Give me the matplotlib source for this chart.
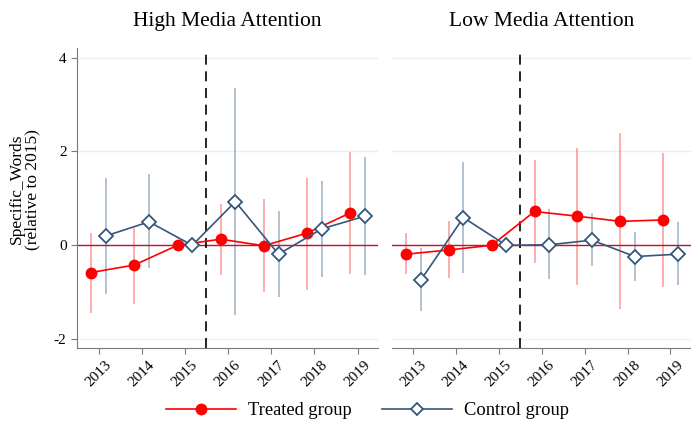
import matplotlib.pyplot as plt
import numpy as np
from matplotlib.lines import Line2D

plt.rcParams['font.family'] = ['Liberation Serif', 'DejaVu Serif']
plt.rcParams['axes.unicode_minus'] = False

years = [2013, 2014, 2015, 2016, 2017, 2018, 2019]

## High Media Attention
high_treat = [-0.58, -0.42, 0.0, 0.13, -0.01, 0.26, 0.69]
high_treat_lo = [-1.45, -1.26, np.nan, -0.63, -1.00, -0.95, -0.61]
high_treat_hi = [0.27, 0.37, np.nan, 0.89, 0.99, 1.43, 1.98]
high_ctrl = [0.20, 0.50, 0.0, 0.93, -0.19, 0.35, 0.62]
high_ctrl_lo = [-1.04, -0.49, np.nan, -1.49, -1.11, -0.68, -0.63]
high_ctrl_hi = [1.43, 1.51, np.nan, 3.36, 0.74, 1.37, 1.89]

## Low Media Attention
low_treat = [-0.19, -0.10, 0.0, 0.72, 0.62, 0.51, 0.54]
low_treat_lo = [-0.62, -0.70, np.nan, -0.38, -0.84, -1.36, -0.89]
low_treat_hi = [0.26, 0.52, np.nan, 1.81, 2.08, 2.40, 1.97]
low_ctrl = [-0.75, 0.59, 0.0, 0.01, 0.11, -0.24, -0.19]
low_ctrl_lo = [-1.41, -0.60, np.nan, -0.71, -0.45, -0.76, -0.84]
low_ctrl_hi = [-0.06, 1.78, np.nan, 0.77, 0.68, 0.28, 0.50]

titles = ["High Media Attention", "Low Media Attention"]

red = '#ff0000'
navy = '#34587c'
axis_gray = '#7a7a7a'


def panel(ax, treat, t_lo, t_hi, ctrl, c_lo, c_hi, title, show_y):
    x = np.array(years, dtype=float)
    xt = x - 0.17
    xc = x + 0.17
    ## 置信区间
    ax.vlines(xt, t_lo, t_hi, color=red, alpha=0.35, lw=1.3, zorder=2)
    ax.vlines(xc, c_lo, c_hi, color=navy, alpha=0.4, lw=1.3, zorder=2)
    ax.axhline(0, color='#c8102e', lw=1.0, zorder=2.2)
    ax.axvline(2015.5, color='black', lw=1.2, ls=(0, (6, 4)), zorder=3)
    ax.plot(xt, treat, color=red, lw=1.2, marker='o', ms=7.5, zorder=4)
    ax.plot(xc, ctrl, color=navy, lw=1.2, marker='D', ms=7, mfc='white',
            mec=navy, mew=1.3, zorder=5)

    ax.set_xlim(2012.5, 2019.48)
    ax.set_ylim(-2.19, 4.2)
    ax.set_yticks([-2, 0, 2, 4])
    ax.set_xticks(years)
    ax.set_xticklabels([str(y) for y in years], rotation=45, fontsize=11)
    ax.grid(axis='y', color='#eeeeee', lw=1.0, zorder=0)
    ax.set_axisbelow(True)
    ax.set_title(title, fontsize=15.5, pad=16)
    for s in ['top', 'right']:
        ax.spines[s].set_visible(False)
    ax.spines['bottom'].set_color(axis_gray)
    ax.spines['left'].set_color(axis_gray)
    ax.tick_params(colors=axis_gray, labelcolor='black', length=4)
    if show_y:
        ax.tick_params(axis='y', labelsize=11)
        ax.set_ylabel("Specific_Words\n(relative to 2015)", fontsize=12.5,
                      linespacing=1.0)
        ax.yaxis.set_label_coords(-0.12, 0.53)
    else:
        ax.spines['left'].set_visible(False)
        ax.tick_params(axis='y', left=False, labelleft=False)


fig = plt.figure(figsize=(6.91, 4.34), dpi=100)
ax1 = fig.add_axes([0.1114, 0.198, 0.436, 0.691])
ax2 = fig.add_axes([0.567, 0.198, 0.433, 0.691])

panel(ax1, high_treat, high_treat_lo, high_treat_hi,
      high_ctrl, high_ctrl_lo, high_ctrl_hi, titles[0], True)
panel(ax2, low_treat, low_treat_lo, low_treat_hi,
      low_ctrl, low_ctrl_lo, low_ctrl_hi, titles[1], False)

## 图例
handles = [
    Line2D([], [], color=red, lw=1.2, marker='o', ms=7.5),
    Line2D([], [], color=navy, lw=1.2, marker='D', ms=6, mfc='white', mec=navy, mew=1.3),
]
fig.legend(handles, ["Treated group", "Control group"], loc='center',
           bbox_to_anchor=(0.532, 0.053), ncol=2, frameon=False, fontsize=13.3,
           handlelength=3.8, columnspacing=1.6, handletextpad=0.65)

fig.savefig('out.png', dpi=100)
